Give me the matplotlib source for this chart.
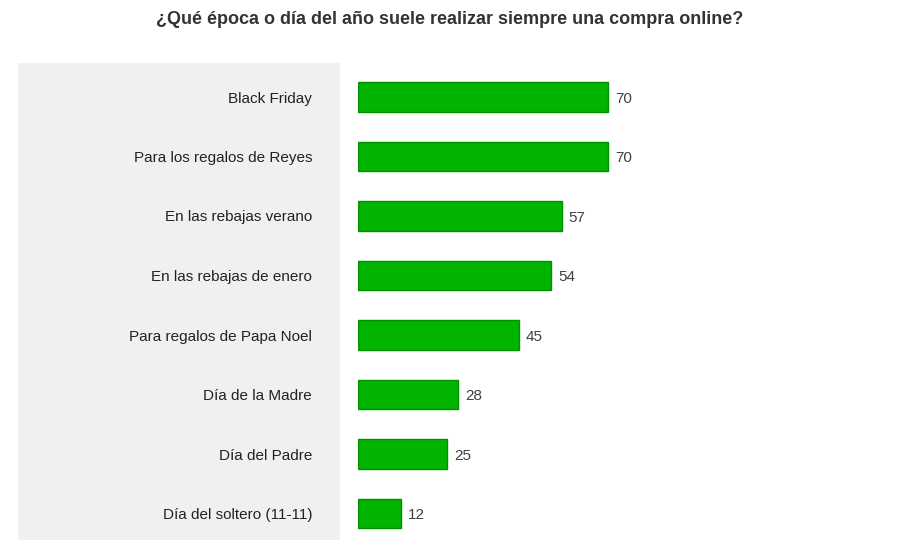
import matplotlib.pyplot as plt
from matplotlib.patches import Rectangle

plt.rcParams["font.family"] = "Liberation Sans"

categorias = ["Black Friday", "Para los regalos de Reyes", "En las rebajas verano",
              "En las rebajas de enero", "Para regalos de Papa Noel", "Día de la Madre",
              "Día del Padre", "Día del soltero (11-11)"]
valores = [70, 70, 57, 54, 45, 28, 25, 12]

W, H = 919, 558
fig = plt.figure(figsize=(W / 100, H / 100), dpi=100)
fig.patch.set_facecolor("white")

# fondo gris de las etiquetas, en un eje aparte por debajo
bg = fig.add_axes([18 / W, 1 - 540 / H, (340 - 18) / W, (540 - 63) / H], zorder=0)
bg.set_facecolor("#f0f0f0")
bg.set_xticks([])
bg.set_yticks([])
for s in bg.spines.values():
    s.set_visible(False)

ax = fig.add_axes([358 / W, 1 - 540 / H, (900 - 358) / W, (540 - 63) / H], zorder=1)
ax.patch.set_alpha(0)
y = list(range(len(valores)))
ax.barh(y, valores, height=0.5, color="#00b400", edgecolor="#009000", linewidth=1)
for yi, v in zip(y, valores):
    ax.text(v + 2, yi + 0.03, str(v), va="center", ha="left", fontsize=11, color="#404040")

ax.set_xlim(0, 542 / (250 / 70))
ax.set_ylim((540 - 97) / 59.5, -34 / 59.5)
ax.set_yticks(y)
ax.set_yticklabels(categorias, fontsize=11, color="#222222")
ax.tick_params(axis="y", length=0, pad=33)
ax.set_xticks([])
for s in ax.spines.values():
    s.set_visible(False)

fig.text(450 / W, 1 - 20 / H, "¿Qué época o día del año suele realizar siempre una compra online?",
         ha="center", va="center", fontsize=13, fontweight="bold", color="#333333")

fig.savefig("out.png", dpi=100)
